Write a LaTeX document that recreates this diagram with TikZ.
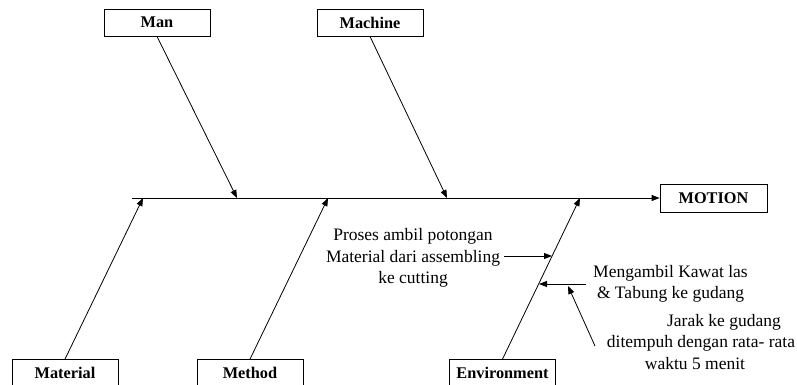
\documentclass[tikz,border=0pt]{standalone}
\usepackage{fontspec}
\setmainfont{Liberation Serif}
\usetikzlibrary{arrows.meta}
\begin{document}
\begin{tikzpicture}[x=1pt,y=-1pt,
  cause/.style={draw, line width=0.8pt, minimum width=106pt, minimum height=27pt,
    font=\fontsize{16.3}{18}\selectfont\bfseries, inner sep=0pt},
  bone/.style={line width=0.8pt, -{Triangle[length=8pt,width=6pt]}},
  note/.style={font=\fontsize{17.5}{21.5}\selectfont, align=center, inner sep=0pt}]
\clip (0,0) rectangle (797,385);

% category boxes
\node[cause] (man)      at (157,22.5)  {Man};
\node[cause] (machine)  at (370,22.5)  {Machine};
\node[cause, minimum width=107pt, minimum height=28pt] (motion) at (713.5,198) {MOTION};
\node[cause] (material) at (65,373)  {Material};
\node[cause] (method)   at (250,373) {Method};
\node[cause] (env)      at (502.5,373) {Environment};

% spine
\coordinate (tail) at (132,198);
\draw[bone] (tail) -- (motion.west);

% points where the bones meet the spine
\coordinate (pman)  at (237,198);
\coordinate (pmach) at (447,198);
\coordinate (pmat)  at (143,198);
\coordinate (pmeth) at (328,198);
\coordinate (penv)  at (580,198);

\draw[bone] (man.south) -- (pman);
\draw[bone] (machine.south) -- (pmach);
\draw[bone] (material.north) -- (pmat);
\draw[bone] (method.north) -- (pmeth);
\draw[bone] (env.north) -- (penv);

% causes on the Environment bone
\node[note] (proses) at (413,258) {Proses ambil potongan\\Material dari assembling\\ke cutting};
\coordinate (prosesA) at (504,256);
\coordinate (prosesB) at (552,256);
\node[note] (ambil) at (670.5,284) {Mengambil Kawat las\\\& Tabung ke gudang};
\coordinate (ambilA) at (586,284);
\coordinate (ambilB) at (539,284);
\node[note] (jarak) at (701,342) {\hspace*{46pt}Jarak ke gudang\\ditempuh dengan rata- rata\\waktu 5 menit\hspace*{12pt}};
\coordinate (jarakA) at (595,346);
\coordinate (jarakB) at (568,286);

\draw[bone] (prosesA) -- (prosesB);
\draw[bone] (ambilA) -- (ambilB);
\draw[bone] (jarakA) -- (jarakB);
\end{tikzpicture}
\end{document}
